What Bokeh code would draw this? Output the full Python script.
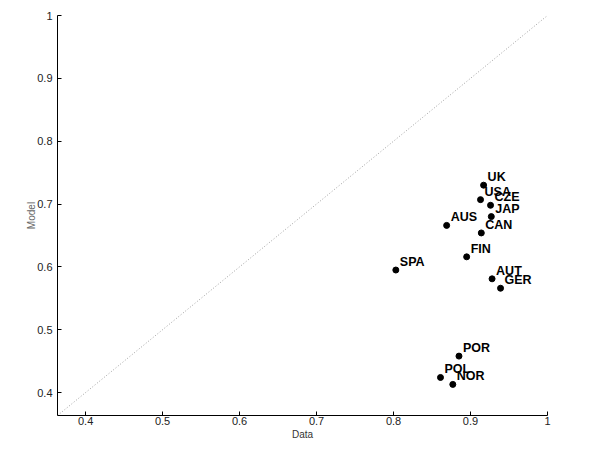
from bokeh.plotting import figure
from bokeh.models import ColumnDataSource, FixedTicker, Range1d
from bokeh.embed import file_html
from bokeh.resources import INLINE
from bokeh.core.properties import value

countries = ["UK", "USA", "CZE", "JAP", "AUS", "CAN", "FIN", "SPA", "AUT", "GER", "POR", "POL", "NOR"]
data_x = [0.917, 0.913, 0.926, 0.927, 0.869, 0.914, 0.895, 0.803, 0.928, 0.939, 0.885, 0.861, 0.877]
model_y = [0.730, 0.707, 0.698, 0.680, 0.666, 0.654, 0.616, 0.595, 0.581, 0.566, 0.458, 0.424, 0.413]
ticks = [0.4, 0.5, 0.6, 0.7, 0.8, 0.9, 1.0]
lo, hi = 0.3635, 1.0

src = ColumnDataSource(dict(x=data_x, y=model_y, name=countries))

p = figure(width=584, height=442, output_backend="svg", toolbar_location=None,
           x_range=Range1d(lo, hi), y_range=Range1d(lo, hi),
           min_border_left=57, min_border_right=37, min_border_top=15, min_border_bottom=22)
p.outline_line_color = None
p.grid.visible = False
p.background_fill_color = "white"
p.border_fill_color = "white"

# diagonal
p.line(x=[lo, hi], y=[lo, hi], line_color="#a0a0a0", line_dash="1 2", line_width=1)

p.scatter(x="x", y="y", source=src, size=6, color="black")
p.text(x="x", y="y", text="name", source=src, x_offset=4, y_offset=-1,
       text_font=value("Liberation Sans"), text_font_style="bold", text_font_size="12.5px",
       text_baseline="bottom", text_align="left", text_color="black")

for ax in (p.xaxis[0], p.yaxis[0]):
    ax.ticker = FixedTicker(ticks=ticks)
    ax.minor_tick_line_color = None
    ax.major_tick_in = 4
    ax.major_tick_out = 0
    ax.axis_line_color = "black"
    ax.major_tick_line_color = "black"
    ax.major_label_text_font = "Liberation Sans"
    ax.major_label_text_font_size = "11px"
    ax.major_label_text_color = "#222222"
    ax.axis_label_text_font = "Liberation Sans"
    ax.axis_label_text_font_style = "normal"

p.xaxis.major_label_overrides = {1.0: "1"}
p.yaxis.major_label_overrides = {1.0: "1"}
p.xaxis.axis_label = "Data"
p.xaxis.axis_label_text_font_size = "10px"
p.xaxis.axis_label_text_color = "#333333"
p.xaxis.axis_label_standoff = 1
p.xaxis.major_label_standoff = 1
p.yaxis.axis_label = "Model"
p.yaxis.axis_label_text_font_size = "10px"
p.yaxis.axis_label_text_color = "#666666"
p.yaxis.axis_label_standoff = -3
p.yaxis.major_label_standoff = 5

open("out.html", "w").write(file_html(p, INLINE))
